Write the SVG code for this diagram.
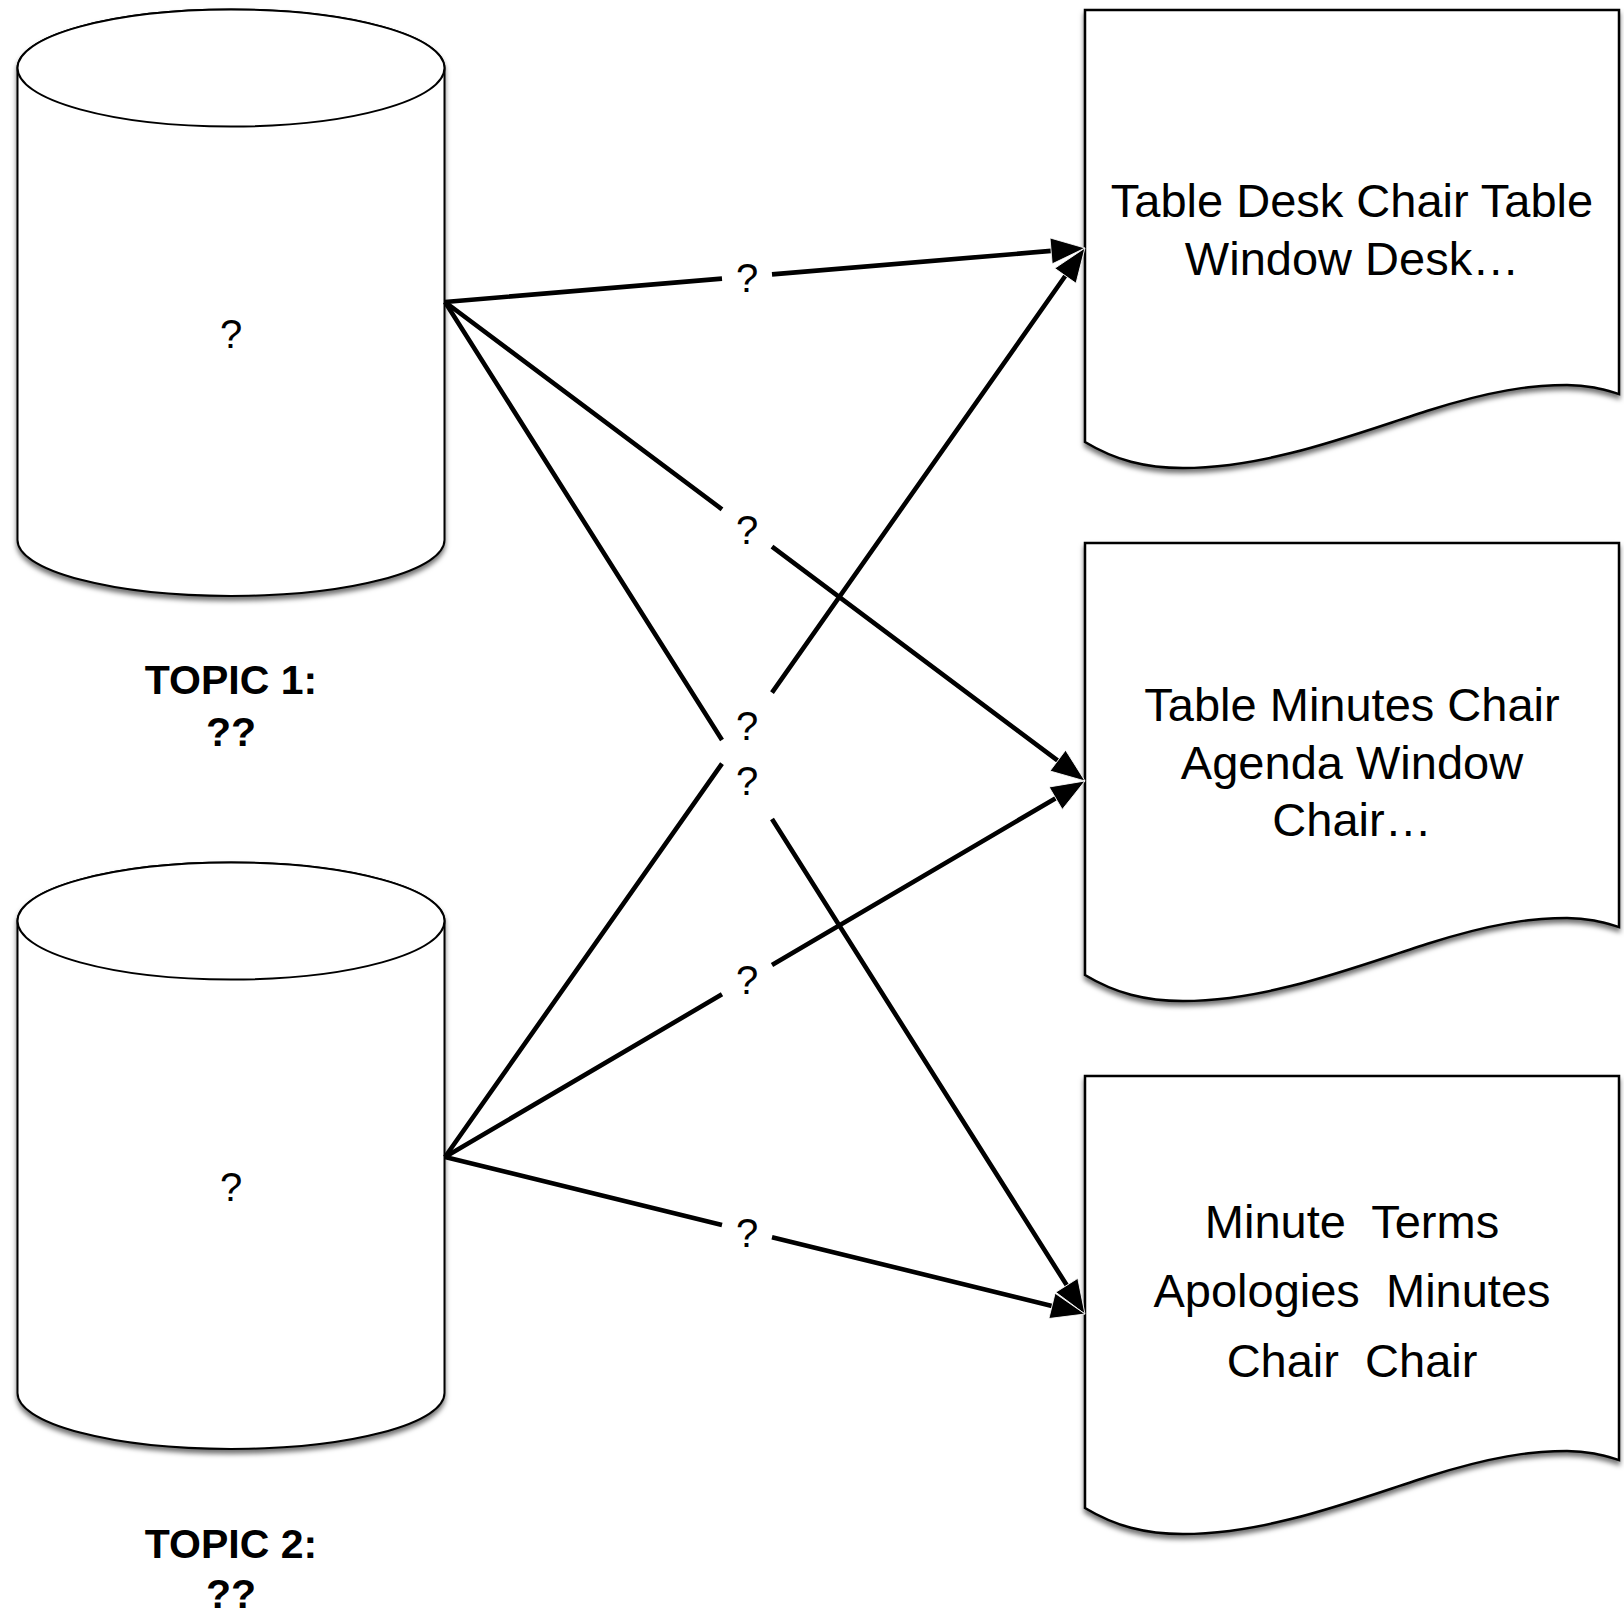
<svg xmlns="http://www.w3.org/2000/svg" width="1624" height="1618" viewBox="0 0 1624 1618">
<style>
.shape{fill:#fff;stroke:#000;stroke-width:2}
.docshape{fill:#fff;stroke:#000;stroke-width:2.5}
.conn{fill:none;stroke:#000;stroke-width:4.6;marker-end:url(#arrow)}
text{font-family:"Liberation Sans",Arial,Helvetica,sans-serif;text-anchor:middle;fill:#000}
.q{font-size:40px}
.doct{font-size:47px}
.topic{font-size:41px;font-weight:bold}
</style>
<defs>
<filter id="shadow" x="-10%" y="-10%" width="120%" height="125%">
<feDropShadow dx="0" dy="4" stdDeviation="2.5" flood-color="#000" flood-opacity="0.55"/>
</filter>
<marker id="arrow" markerUnits="userSpaceOnUse" markerWidth="36" markerHeight="28" refX="0" refY="13" orient="auto" overflow="visible">
<path d="M0,0 L34,13 L0,26 Z" fill="#000" stroke="#fff" stroke-width="0.8"/>
</marker>
<path id="docShape" d="M1085,10 H1619 V394 C1605,390 1590,385 1567,385 C1530,385 1490,391 1430,410 C1360,432 1270,468 1183,468 C1145,468 1115,460 1085,442 Z"/>
</defs>
<rect width="1624" height="1618" fill="#fff"/>

<g id="topic1">
<path class="shape" filter="url(#shadow)" d="M17.5,68 A213.5,58.5 0 0 1 444.5,68 L444.5,540 A213.5,56 0 0 1 17.5,540 Z"/>
<ellipse class="shape" cx="231" cy="68" rx="213.5" ry="58.5"/>
<text class="q" x="231" y="348">?</text>
</g>
<g id="topic1-label">
<text class="topic" x="231" y="694">TOPIC 1:</text>
<text class="topic" x="231" y="746">??</text>
</g>

<g id="topic2">
<path class="shape" filter="url(#shadow)" d="M17.5,921 A213.5,58.5 0 0 1 444.5,921 L444.5,1393 A213.5,56 0 0 1 17.5,1393 Z"/>
<ellipse class="shape" cx="231" cy="921" rx="213.5" ry="58.5"/>
<text class="q" x="231" y="1201">?</text>
</g>
<g id="topic2-label">
<text class="topic" x="231" y="1558">TOPIC 2:</text>
<text class="topic" x="231" y="1608">??</text>
</g>

<g id="doc1">
<use href="#docShape" class="docshape" filter="url(#shadow)"/>
<text class="doct" x="1352" y="216.5">Table Desk Chair Table</text>
<text class="doct" x="1352" y="274.5">Window Desk…</text>
</g>

<g id="doc2">
<use href="#docShape" class="docshape" filter="url(#shadow)" transform="translate(0,533)"/>
<text class="doct" x="1352" y="721">Table Minutes Chair</text>
<text class="doct" x="1352" y="778.5">Agenda Window</text>
<text class="doct" x="1352" y="836">Chair…</text>
</g>

<g id="doc3">
<use href="#docShape" class="docshape" filter="url(#shadow)" transform="translate(0,1066)"/>
<text class="doct" x="1352" y="1238" xml:space="preserve">Minute  Terms</text>
<text class="doct" x="1352" y="1307" xml:space="preserve">Apologies  Minutes</text>
<text class="doct" x="1352" y="1377" xml:space="preserve">Chair  Chair</text>
</g>

<g id="connectors">
<path class="conn" d="M445,302 L722,278.6 M772,274.4 L1051.1,250.9"/>
<path class="conn" d="M445,302 L722,509.3 M772,546.7 L1057.8,760.6"/>
<path class="conn" d="M445,302 L722,740 M772,819.1 L1066.8,1285.3"/>
<path class="conn" d="M445,1157 L722,763.6 M772,692.6 L1065.4,275.8"/>
<path class="conn" d="M445,1157 L722,994.3 M772,964.9 L1055.7,798.2"/>
<path class="conn" d="M445,1157 L722,1224.9 M772,1237.2 L1052,1305.9"/>
<text class="q" x="747" y="292">?</text>
<text class="q" x="747" y="544">?</text>
<text class="q" x="747" y="795">?</text>
<text class="q" x="747" y="740">?</text>
<text class="q" x="747" y="994">?</text>
<text class="q" x="747" y="1247">?</text>
</g>
</svg>
